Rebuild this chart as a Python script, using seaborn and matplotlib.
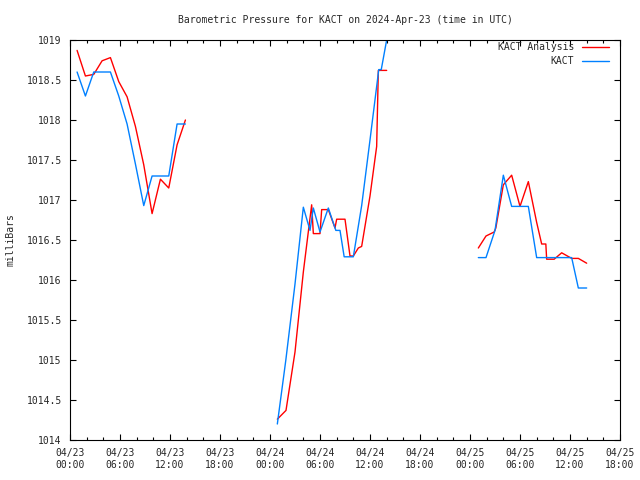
import pandas as pd
import matplotlib
matplotlib.use("Agg")
import matplotlib.pyplot as plt
import matplotlib.dates as mdates
from matplotlib.lines import Line2D
import seaborn as sns

# hours after 2024-04-23 00:00 UTC, one list per unbroken stretch of data
analysis_hours_1 = [0.85, 1.85, 2.85, 3.85, 4.85, 5.85, 6.85, 7.85, 8.85, 9.85, 10.85, 11.85, 12.85, 13.85]
analysis_mb_1 = [1018.87, 1018.55, 1018.57, 1018.74, 1018.78, 1018.48, 1018.29, 1017.92, 1017.44, 1016.83,
                 1017.26, 1017.15, 1017.69, 1018.0]
analysis_hours_2 = [24.88, 25.92, 27.0, 28.0, 29.0, 29.2, 30.0, 30.2, 31.0, 31.8, 32.0, 33.0, 33.6, 34.0,
                    34.6, 35.0, 36.0, 36.8, 37.0, 38.0]
analysis_mb_2 = [1014.26, 1014.37, 1015.1, 1016.1, 1016.94, 1016.58, 1016.58, 1016.88, 1016.88, 1016.65,
                 1016.76, 1016.76, 1016.30, 1016.30, 1016.40, 1016.42, 1017.05, 1017.67, 1018.62, 1018.62]
analysis_hours_3 = [49.0, 49.92, 50.9, 51.1, 52.0, 53.0, 54.0, 55.0, 56.0, 56.6, 57.1, 57.2, 58.1, 59.0,
                    60.2, 61.0, 62.0]
analysis_mb_3 = [1016.40, 1016.55, 1016.60, 1016.65, 1017.19, 1017.31, 1016.92, 1017.23, 1016.72, 1016.45,
                 1016.45, 1016.26, 1016.26, 1016.34, 1016.27, 1016.27, 1016.21]

kact_hours_1 = [0.85, 1.85, 2.85, 3.85, 4.85, 5.85, 6.85, 7.85, 8.85, 9.85, 10.85, 11.85, 12.85, 13.85]
kact_mb_1 = [1018.6, 1018.3, 1018.6, 1018.6, 1018.6, 1018.3, 1017.95, 1017.45, 1016.93, 1017.3,
             1017.3, 1017.3, 1017.95, 1017.95]
kact_hours_2 = [24.88, 25.9, 27.0, 28.0, 28.8, 29.2, 30.0, 31.0, 31.9, 32.4, 32.9, 34.0, 35.0, 36.0,
                37.05, 37.35, 38.0]
kact_mb_2 = [1014.2, 1015.0, 1015.95, 1016.91, 1016.62, 1016.9, 1016.6, 1016.9, 1016.62, 1016.62,
             1016.29, 1016.29, 1016.93, 1017.75, 1018.63, 1018.63, 1019.0]
kact_hours_3 = [49.0, 49.92, 51.0, 52.0, 53.0, 55.0, 56.0, 60.2, 61.0, 62.0]
kact_mb_3 = [1016.28, 1016.28, 1016.62, 1017.31, 1016.92, 1016.92, 1016.28, 1016.28, 1015.9, 1015.9]

series_names = ["KACT Analysis", "KACT"]
series_colors = ["#ff0000", "#0080ff"]

start = pd.Timestamp("2024-04-23 00:00")

rows = []
pieces = {
    "KACT Analysis": [(analysis_hours_1, analysis_mb_1), (analysis_hours_2, analysis_mb_2),
                      (analysis_hours_3, analysis_mb_3)],
    "KACT": [(kact_hours_1, kact_mb_1), (kact_hours_2, kact_mb_2), (kact_hours_3, kact_mb_3)],
}
for name, segs in pieces.items():
    for k, (hrs, vals) in enumerate(segs):
        for h, v in zip(hrs, vals):
            rows.append({"time": start + pd.Timedelta(hours=h), "pressure": v,
                         "series": name, "segment": k})
df = pd.DataFrame(rows)

sns.set_style("ticks")
plt.rcParams['font.family'] = ['DejaVu Sans Mono']
plt.rcParams['font.size'] = 7

fig = plt.figure(figsize=(6.4, 4.8), dpi=100)
ax = fig.add_axes([70 / 640, 40 / 480, 550 / 640, 400 / 480])

sns.lineplot(data=df, x="time", y="pressure", hue="series", units="segment", estimator=None,
             sort=False, palette=dict(zip(series_names, series_colors)), hue_order=series_names,
             linewidth=1.0, legend=False, ax=ax)

ax.set_xlim(start, start + pd.Timedelta(hours=66))
ax.set_ylim(1014, 1019)
ax.set_yticks([1014 + 0.5 * i for i in range(11)])
ax.set_yticklabels(["1014", "1014.5", "1015", "1015.5", "1016", "1016.5",
                    "1017", "1017.5", "1018", "1018.5", "1019"])
ax.xaxis.set_major_locator(mdates.HourLocator(byhour=[0, 6, 12, 18]))
ax.xaxis.set_minor_locator(mdates.HourLocator(byhour=range(0, 24, 2)))
ax.xaxis.set_major_formatter(mdates.DateFormatter("%m/%d\n%H:%M"))

ax.tick_params(which="both", direction="in", top=True, right=True, color="black", width=0.8)
ax.tick_params(which="major", length=4.5, pad=6, labelsize=7)
ax.tick_params(which="minor", length=2.2)
for side in ax.spines.values():
    side.set_color("black")
    side.set_linewidth(0.8)

ax.set_xlabel("")
ax.set_ylabel("milliBars", fontsize=7, labelpad=8)
ax.set_title("Barometric Pressure for KACT on 2024-Apr-23 (time in UTC)", fontsize=7, pad=12.5)

handles = [Line2D([], [], color=c, linewidth=1.0) for c in series_colors]
ax.legend(handles, series_names, loc="upper right", bbox_to_anchor=(0.98, 0.995), frameon=False,
          markerfirst=False, handlelength=2.8, handletextpad=0.8, labelspacing=0.45,
          borderpad=0, borderaxespad=0, fontsize=7)

fig.savefig("out.png", dpi=100)
